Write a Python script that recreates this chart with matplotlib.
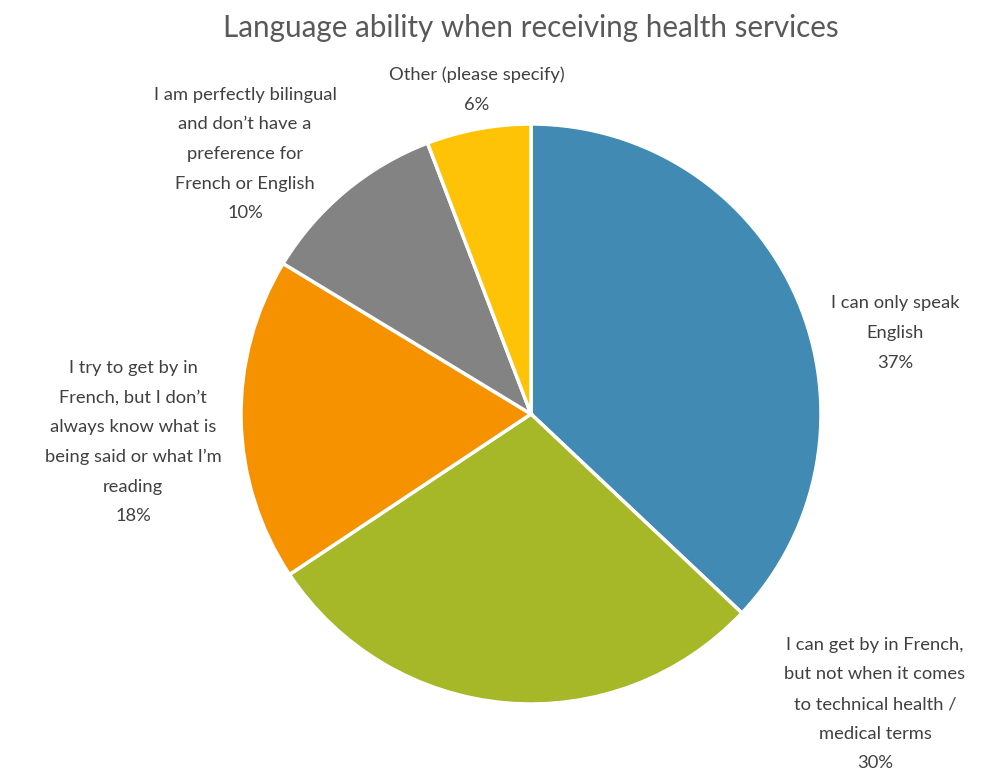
import matplotlib.pyplot as plt

plt.rcParams['font.family'] = ['Lato', 'DejaVu Sans']

title = "Language ability when receiving health services"
categories = [
    "I can only speak\nEnglish",
    "I can get by in French,\nbut not when it comes\nto technical health /\nmedical terms",
    "I try to get by in\nFrench, but I don\u2019t\nalways know what is\nbeing said or what I\u2019m\nreading",
    "I am perfectly bilingual\nand don\u2019t have a\npreference for\nFrench or English",
    "Other (please specify)",
]
# slice shares (degrees -> percent)
shares = [37.0, 28.6, 18.0, 10.5, 5.8]
pct_labels = ["37%", "30%", "18%", "10%", "6%"]
colors = ["#418AB3", "#A6B727", "#F69200", "#838383", "#FEC306"]

# label anchor points in figure pixels (x, y from top)
label_pos = [(895, 333), (875, 704), (133, 442), (245, 154), (477, 90)]

W, H = 990, 771
fig = plt.figure(figsize=(W / 100, H / 100), dpi=100)
ax = fig.add_axes([0, 0, 1, 1])

cx, cy, r = 531, 414, 290
ax.pie(shares, colors=colors, startangle=90, counterclock=False,
       center=(cx, H - cy), radius=r,
       wedgeprops={"edgecolor": "white", "linewidth": 2.5})
ax.set_xlim(0, W)
ax.set_ylim(0, H)
ax.set_aspect("equal")
ax.axis("off")

for name, pct, (x, y) in zip(categories, pct_labels, label_pos):
    ax.text(x, H - y, name + "\n" + pct, ha="center", va="center",
            fontsize=13.2, color="#404040", linespacing=2.05)

ax.text(531, H - 28, title, ha="center", va="center",
        fontsize=21.3, color="#595959")

fig.savefig("out.png", dpi=100)
